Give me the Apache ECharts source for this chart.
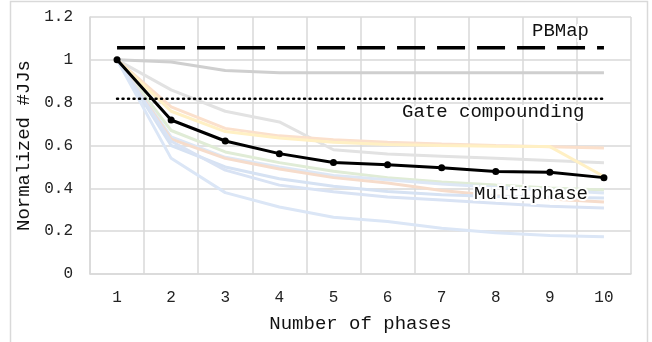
<!DOCTYPE html>
<html>
<head>
<meta charset="utf-8">
<script src="https://cdn.jsdelivr.net/npm/echarts@6/dist/echarts.min.js"></script>
<style>html,body{margin:0;padding:0;background:#fff;}#c{width:652px;height:342px;}</style>
</head>
<body>
<div id="c"></div>
<script>
const categories = ['1','2','3','4','5','6','7','8','9','10'];
const multiphase = [1, 0.719, 0.621, 0.562, 0.521, 0.51, 0.496, 0.479, 0.475, 0.45];
const pbmap = [1.056, 1.056, 1.056, 1.056, 1.056, 1.056, 1.056, 1.056, 1.056, 1.056];
const gateCompounding = [0.818, 0.818, 0.818, 0.818, 0.818, 0.818, 0.818, 0.818, 0.818, 0.818];
const bgGray1 = [1, 0.99, 0.95, 0.94, 0.94, 0.94, 0.94, 0.94, 0.94, 0.94];
const bgGray2 = [1, 0.86, 0.76, 0.71, 0.58, 0.56, 0.55, 0.54, 0.53, 0.52];
const bgOrange1 = [1, 0.78, 0.68, 0.645, 0.627, 0.615, 0.607, 0.6, 0.594, 0.588];
const bgYellow = [1, 0.76, 0.665, 0.635, 0.615, 0.605, 0.6, 0.597, 0.595, 0.455];
const bgGreen = [1, 0.67, 0.57, 0.52, 0.48, 0.45, 0.43, 0.415, 0.402, 0.392];
const bgBlueA = [1, 0.64, 0.545, 0.5, 0.46, 0.44, 0.42, 0.405, 0.392, 0.378];
const bgOrange2 = [1, 0.63, 0.54, 0.49, 0.45, 0.425, 0.39, 0.365, 0.35, 0.336];
const bgBlueB = [1, 0.6, 0.5, 0.445, 0.41, 0.385, 0.37, 0.362, 0.358, 0.355];
const bgBlueC = [1, 0.62, 0.485, 0.415, 0.384, 0.36, 0.345, 0.33, 0.316, 0.308];
const bgBlueD = [1, 0.54, 0.38, 0.313, 0.265, 0.245, 0.214, 0.193, 0.18, 0.174];

const FONT = "'Liberation Mono', 'DejaVu Sans Mono', monospace";
function bg(name, data, color) {
  return { name, type: 'line', data, symbol: 'none', silent: true, z: 1,
    lineStyle: { color, width: 3 } };
}
const chart = echarts.init(document.getElementById('c'), null, { renderer: 'canvas' });
chart.setOption({
  animation: false,
  backgroundColor: '#fff',
  grid: { left: 90, right: 21, top: 17, bottom: 68 },
  xAxis: {
    type: 'category', data: categories, boundaryGap: true,
    name: 'Number of phases', nameLocation: 'middle', nameGap: 40,
    nameTextStyle: { fontFamily: FONT, fontSize: 19, color: '#111' },
    axisLine: { show: true, lineStyle: { color: '#d9d9d9', width: 1.5 } },
    axisTick: { show: false },
    axisLabel: { fontFamily: FONT, fontSize: 16, color: '#222', margin: 16 },
    splitLine: { show: true, lineStyle: { color: '#d9d9d9', width: 1.5 } }
  },
  yAxis: {
    type: 'value', min: 0, max: 1.2, interval: 0.2,
    name: 'Normalized #JJs', nameLocation: 'middle', nameGap: 57,
    nameTextStyle: { fontFamily: FONT, fontSize: 19, color: '#111' },
    axisLine: { show: true, lineStyle: { color: '#d9d9d9', width: 1.5 } },
    axisTick: { show: false },
    axisLabel: { fontFamily: FONT, fontSize: 16, color: '#222', margin: 17 },
    splitLine: { show: true, lineStyle: { color: '#d9d9d9', width: 1.5 } }
  },
  graphic: [
    { type: 'rect', shape: { x: 10.5, y: 1.5, width: 637, height: 345 }, silent: true, z: -1,
      style: { fill: 'none', stroke: '#d9d9d9', lineWidth: 1.5 } },
    { type: 'text', left: 530, top: 19, z: 100,
      style: { text: 'PBMap', fontFamily: FONT, fontSize: 19, fill: '#111', stroke: '#fff', lineWidth: 4 } },
    { type: 'text', left: 400, top: 100, z: 100,
      style: { text: 'Gate compounding', fontFamily: FONT, fontSize: 19, fill: '#111', stroke: '#fff', lineWidth: 4 } },
    { type: 'text', left: 472, top: 182, z: 100,
      style: { text: 'Multiphase', fontFamily: FONT, fontSize: 19, fill: '#111', stroke: '#fff', lineWidth: 4 } }
  ],
  series: [
    bg('g1', bgGray1, '#cfcfcf'),
    bg('g2', bgGray2, '#e2e2e2'),
    bg('o1', bgOrange1, '#fbe0cc'),
    bg('y1', bgYellow, '#fff0c4'),
    bg('gr', bgGreen, '#e0ecd6'),
    bg('bA', bgBlueA, '#dde7f5'),
    bg('o2', bgOrange2, '#f6dccb'),
    bg('bB', bgBlueB, '#d6e2f3'),
    bg('bC', bgBlueC, '#d9e3f4'),
    bg('bD', bgBlueD, '#dbe6f6'),
    { name: 'PBMap', type: 'line', data: pbmap, symbol: 'none', z: 5,
      lineStyle: { color: '#000', width: 3.5, type: [28, 12] } },
    { name: 'Gate compounding', type: 'line', data: gateCompounding, symbol: 'none', z: 5,
      lineStyle: { color: '#000', width: 2.5, type: [1, 4.5], cap: 'round' } },
    { name: 'Multiphase', type: 'line', data: multiphase, symbol: 'circle', symbolSize: 7, z: 10,
      itemStyle: { color: '#000' }, lineStyle: { color: '#000', width: 3 } }
  ]
});
</script>
</body>
</html>
